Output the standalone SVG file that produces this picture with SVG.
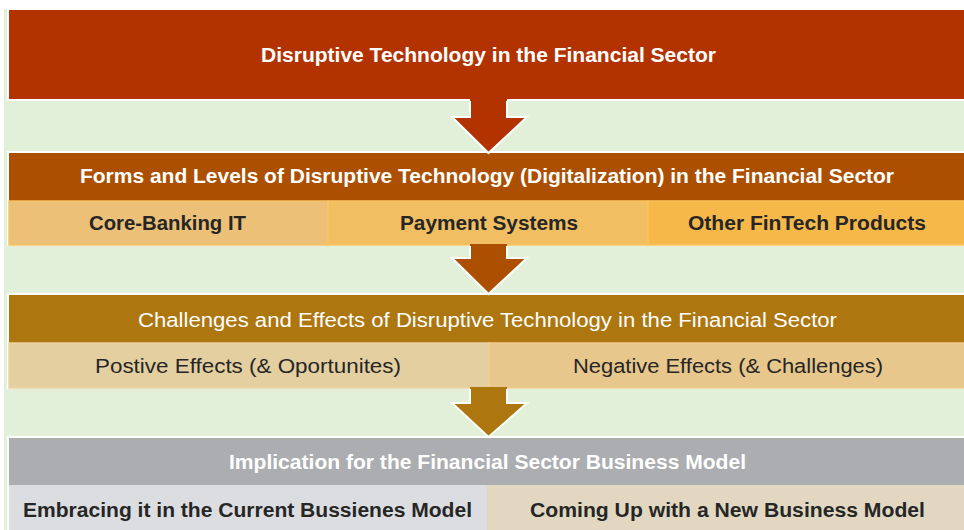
<svg xmlns="http://www.w3.org/2000/svg" width="964" height="530" viewBox="0 0 964 530">
<style>
.box{stroke:#ffffff;stroke-width:2}
.cell{stroke-width:1.5}
.afill{stroke:none}
.aedge{fill:none;stroke:#ffffff;stroke-width:2;stroke-linejoin:miter}
text{font-family:"Liberation Sans",Arial,sans-serif;font-size:20px;text-anchor:middle}
.wb{fill:#ffffff;font-weight:bold}
.wr{fill:#ffffff}
.db{fill:#262626;font-weight:bold}
.dr{fill:#262626}
</style>
<rect x="0" y="0" width="964" height="530" fill="#ffffff"/>
<rect x="4" y="9" width="960" height="521" fill="#e2efd9"/>

<g id="node1">
  <rect class="box" x="8" y="9" width="958" height="91" fill="#b33300"/>
  <text class="wb" x="488.5" y="62" textLength="455" lengthAdjust="spacingAndGlyphs">Disruptive Technology in the Financial Sector</text>
</g>

<g id="node2">
  <rect class="box" x="8" y="152" width="958" height="93" fill="#ad4f00"/>
  <text class="wb" x="487" y="183" textLength="814" lengthAdjust="spacingAndGlyphs">Forms and Levels of Disruptive Technology (Digitalization) in the Financial Sector</text>
</g>
<g id="node2a">
  <rect class="cell" x="9" y="201" width="319" height="44" fill="#ecc177" stroke="#f6c466"/>
  <text class="db" x="167.5" y="230" textLength="157" lengthAdjust="spacingAndGlyphs">Core-Banking IT</text>
</g>
<g id="node2b">
  <rect class="cell" x="328" y="201" width="320" height="44" fill="#f1be61" stroke="#f9c563"/>
  <text class="db" x="489" y="230" textLength="178" lengthAdjust="spacingAndGlyphs">Payment Systems</text>
</g>
<g id="node2c">
  <rect class="cell" x="648" y="201" width="317" height="44" fill="#f6b849" stroke="#fac35a"/>
  <text class="db" x="807" y="230" textLength="238" lengthAdjust="spacingAndGlyphs">Other FinTech Products</text>
</g>

<g id="node3">
  <rect class="box" x="8" y="294" width="958" height="94" fill="#ad760f"/>
  <text class="wr" x="487.5" y="327" textLength="699" lengthAdjust="spacingAndGlyphs">Challenges and Effects of Disruptive Technology in the Financial Sector</text>
</g>
<g id="node3a">
  <rect class="cell" x="9" y="343" width="480" height="45" fill="#e4cfa0" stroke="#ecd3a3"/>
  <text class="dr" x="248" y="373" textLength="306" lengthAdjust="spacingAndGlyphs">Postive Effects (&amp; Oportunites)</text>
</g>
<g id="node3b">
  <rect class="cell" x="489" y="343" width="476" height="45" fill="#e8c78c" stroke="#efcd92"/>
  <text class="dr" x="728" y="373" textLength="310" lengthAdjust="spacingAndGlyphs">Negative Effects (&amp; Challenges)</text>
</g>

<g id="node4">
  <rect class="box" x="8" y="437" width="958" height="95" fill="#abadb1"/>
  <text class="wb" x="487.5" y="469" textLength="517" lengthAdjust="spacingAndGlyphs">Implication for the Financial Sector Business Model</text>
</g>
<g id="node4a">
  <rect x="9" y="485" width="478" height="46" fill="#dcdde0"/>
  <text class="db" x="247.5" y="517" textLength="449" lengthAdjust="spacingAndGlyphs">Embracing it in the Current Bussienes Model</text>
</g>
<g id="node4b">
  <rect x="487" y="485" width="478" height="46" fill="#e2d8c2"/>
  <text class="db" x="727.5" y="517" textLength="395" lengthAdjust="spacingAndGlyphs">Coming Up with a New Business Model</text>
</g>

<g id="connectors">
  <polygon class="afill" fill="#b33300" points="470,96 507,96 507,117 527,117 488.5,153 452,117 470,117"/>
  <polyline class="aedge" points="470,101 470,117 452,117 488.5,153 527,117 507,117 507,101"/>
  <polygon class="afill" fill="#ad4f00" points="470,244 507,244 507,258 527,258 488.5,294 452,258 470,258"/>
  <polyline class="aedge" points="470,246 470,258 452,258 488.5,294 527,258 507,258 507,246"/>
  <polygon class="afill" fill="#ad760f" points="470,387 507,387 507,403 527,403 488.5,437 452,403 470,403"/>
  <polyline class="aedge" points="470,389 470,403 452,403 488.5,437 527,403 507,403 507,389"/>
</g>
</svg>
